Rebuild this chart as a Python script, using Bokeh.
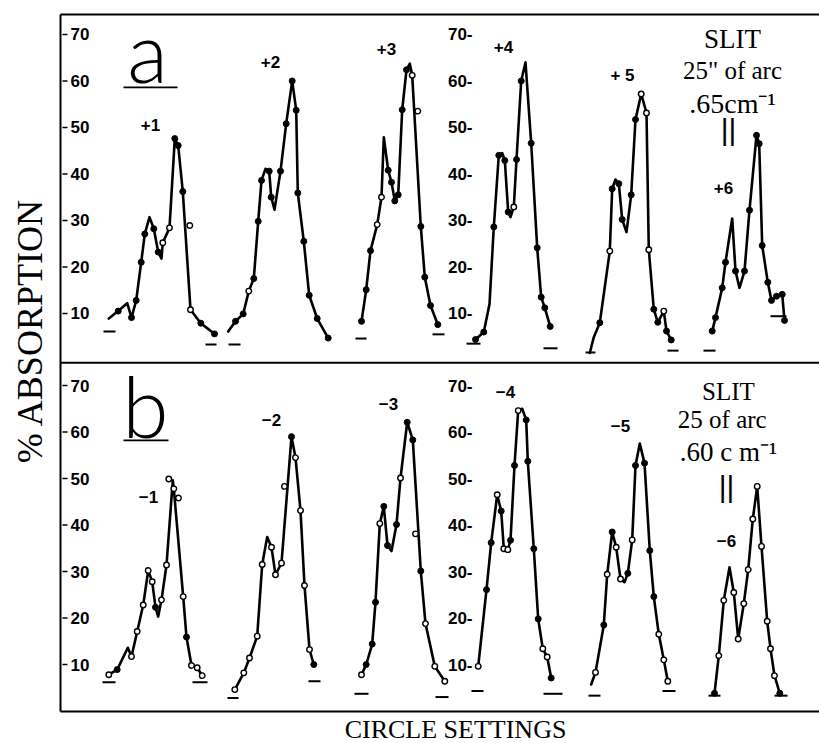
import math
from bokeh.plotting import figure
from bokeh.models import Range1d
from bokeh.core.properties import value
from bokeh.embed import file_html
from bokeh.resources import INLINE

# ---------------- data ----------------
Y_TICKS = [10, 20, 30, 40, 50, 60, 70]
PANEL_A_OFFSET = 75.5      # panel (a) is drawn above panel (b) on a shared scale
DIVIDER = 74.9
FRAME_TOP = 149.8
FRAME_BOTTOM = -0.1
FRAME_RIGHT = 759

# kinds: f = filled point, o = open point, O = open point off the drawn curve, - = curve vertex only
# ---- panel a : circle settings +1 .. +6
A1_X = [48.3, 57.7, 66.7, 71.0, 75.7, 80.7, 84.3, 89.0, 93.3, 97.7, 101.0, 102.3, 109.0, 114.3, 117.7, 122.3, 129.3, 130.0, 140.3, 154.0]
A1_Y = [8.9, 10.5, 12.2, 9.1, 12.8, 21.0, 27.1, 30.7, 28.2, 23.2, 21.8, 25.2, 28.4, 47.6, 46.1, 36.2, 28.9, 10.8, 7.9, 5.6]
A1_K = "-f-ffff-ff-oofffOoff"

A2_X = [167.7, 175.0, 182.7, 188.3, 193.3, 197.7, 201.0, 205.0, 208.7, 210.7, 214.0, 220.0, 225.7, 231.7, 235.7, 237.3, 243.3, 248.7, 256.7, 267.7]
A2_Y = [6.1, 8.3, 9.9, 14.8, 17.5, 29.8, 38.6, 41.1, 40.6, 35.0, 32.3, 40.6, 50.8, 60.0, 53.7, 35.9, 25.5, 13.9, 8.9, 4.7]
A2_K = "-ffofff-ff-fffffffff"

A3_X = [301.0, 305.7, 310.0, 316.7, 321.0, 323.3, 327.7, 331.0, 334.3, 337.7, 341.7, 346.0, 349.3, 351.7, 357.3, 360.3, 364.3, 370.0, 377.3]
A3_Y = [8.3, 15.1, 23.5, 29.1, 35.0, 47.9, 40.8, 38.2, 34.2, 35.5, 53.8, 62.4, 63.7, 61.2, 53.5, 28.7, 17.8, 11.7, 7.6]
A3_K = "fffoo-ffffff-oOffff"

A4_X = [415.0, 423.3, 429.0, 433.3, 438.3, 441.7, 444.3, 447.7, 450.0, 453.3, 456.0, 460.7, 465.0, 470.7, 476.7, 480.7, 484.3, 489.7]
A4_Y = [4.4, 6.0, 12.0, 28.6, 44.0, 44.5, 42.9, 31.8, 30.7, 32.9, 43.1, 60.0, 64.0, 46.6, 24.1, 13.5, 11.2, 7.2]
A4_K = "ff-ff-ff-off-fffff"

A5_X = [529.3, 533.3, 539.3, 549.3, 551.7, 555.0, 558.3, 561.7, 566.0, 570.7, 575.0, 580.7, 586.0, 588.3, 593.3, 597.3, 603.3, 606.0, 610.7]
A5_Y = [1.5, 4.9, 8.0, 23.4, 36.8, 38.8, 37.9, 30.2, 27.5, 35.5, 51.7, 57.2, 53.1, 23.7, 10.9, 8.1, 10.5, 6.2, 4.3]
A5_K = "--fof-ff-ffoooffoff"

A6_X = [651.7, 655.0, 661.7, 665.0, 671.7, 675.0, 679.0, 684.0, 689.0, 696.0, 698.7, 701.7, 707.3, 711.0, 716.0, 721.7, 724.0]
A6_Y = [6.2, 9.1, 15.5, 21.0, 30.4, 19.1, 15.5, 19.1, 32.2, 48.3, 46.5, 24.6, 16.7, 12.8, 13.7, 14.1, 8.5]
A6_K = "ffff-f-ffffffffff"

# ---- panel b : circle settings -1 .. -6
B1_X = [48.3, 56.7, 67.3, 71.0, 76.7, 82.7, 87.7, 91.7, 95.0, 97.7, 101.0, 106.0, 108.3, 112.3, 113.3, 118.0, 122.7, 126.0, 131.0, 136.7, 141.7]
B1_Y = [7.8, 8.9, 13.6, 11.7, 17.1, 22.8, 30.2, 27.8, 22.3, 20.3, 23.9, 31.4, 49.9, 49.6, 47.8, 45.8, 24.6, 15.9, 9.8, 9.3, 7.6]
B1_K = "of-ooooof-ooO-oOofooo"

B2_X = [174.3, 183.3, 189.0, 196.7, 201.7, 206.7, 211.0, 215.0, 221.0, 224.0, 231.0, 235.0, 240.0, 244.0, 249.0, 253.3]
B2_Y = [4.6, 8.2, 11.4, 16.1, 31.5, 37.4, 35.2, 29.3, 31.8, 48.3, 59.0, 54.5, 43.1, 27.0, 13.2, 10.0]
B2_K = "ooooo-oooOfoooof"

B3_X = [301.0, 305.7, 311.7, 315.0, 319.3, 323.3, 327.0, 331.0, 336.0, 340.0, 346.7, 352.3, 355.0, 360.3, 365.0, 374.3, 384.3]
B3_Y = [7.8, 10.0, 14.4, 23.4, 40.3, 44.0, 35.6, 34.4, 40.1, 50.1, 62.1, 58.3, 38.1, 30.1, 18.8, 9.6, 6.4]
B3_K = "offfoff-foffOfooo"

B4_X = [417.7, 426.0, 430.7, 436.7, 440.7, 443.3, 447.3, 450.0, 454.0, 457.7, 461.7, 465.7, 467.3, 473.3, 477.7, 482.3, 486.7, 490.7]
B4_Y = [9.6, 26.1, 36.2, 46.5, 43.0, 34.9, 34.7, 36.7, 52.8, 64.6, 65.0, 62.6, 53.7, 34.9, 19.8, 13.4, 11.6, 7.1]
B4_K = "offofooffo-ffffoof"

B5_X = [530.7, 535.0, 543.3, 546.7, 551.7, 555.7, 560.0, 564.0, 567.3, 571.7, 575.0, 579.3, 584.0, 589.3, 593.3, 598.3, 603.3, 607.3]
B5_Y = [5.7, 8.3, 18.5, 29.4, 38.5, 35.2, 28.4, 27.7, 29.6, 36.8, 52.8, 57.5, 53.3, 34.5, 24.6, 16.5, 11.0, 6.4]
B5_K = "-ofofoo-fof-fffooo"

B6_X = [654.0, 658.3, 663.3, 669.0, 673.3, 677.7, 683.3, 687.7, 692.3, 696.7, 701.0, 706.7, 710.0, 714.0, 719.3]
B6_Y = [3.8, 11.9, 23.8, 30.9, 25.5, 15.5, 23.1, 30.4, 41.3, 48.3, 35.4, 19.3, 13.4, 7.6, 3.8]
B6_K = "foo-oooooooooof"

# baseline (zero) marks for each scan: x0, x1, level
A_BASE_X0 = [43, 145, 168, 295, 372, 406, 483, 525, 607, 643, 710]
A_BASE_X1 = [55, 156, 180, 306, 384, 420, 497, 535, 618, 655, 726]
A_BASE_Y = [6.1, 3.3, 3.3, 4.6, 5.5, 3.5, 2.5, 1.6, 2.0, 2.0, 9.4]

B_BASE_X0 = [42, 132, 167, 248, 294, 375, 411, 483, 528, 602, 648, 714]
B_BASE_X1 = [55, 147, 178, 260, 308, 388, 423, 502, 540, 615, 660, 727]
B_BASE_Y = [6.2, 6.2, 2.8, 6.4, 3.7, 3.0, 4.3, 3.7, 3.3, 4.3, 3.3, 3.3]

A_LABELS = ["+1", "+2", "+3", "+4", "+ 5", "+6"]
B_LABELS = ["\u22121", "\u22122", "\u22123", "\u22124", "\u22125", "\u22126"]

# ---------------- figure ----------------
SCALE = 4.65  # px per % unit
W, H = 819, 743
Y_TOP = 710.5 / SCALE
p = figure(width=W, height=H, output_backend="svg", toolbar_location=None,
           x_axis_type=None, y_axis_type=None, title=None,
           min_border_left=0, min_border_right=0, min_border_top=0, min_border_bottom=0)
p.x_range = Range1d(-60, W - 60)
p.y_range = Range1d(Y_TOP - H / SCALE, Y_TOP)
p.outline_line_color = None
p.background_fill_color = "white"
p.border_fill_color = "white"

# frame lines
p.segment([0, 0, 0, 0], [FRAME_TOP, FRAME_BOTTOM, DIVIDER, FRAME_BOTTOM],
          [FRAME_RIGHT, FRAME_RIGHT, FRAME_RIGHT, 0], [FRAME_TOP, FRAME_BOTTOM, DIVIDER, FRAME_TOP],
          line_color="black", line_width=2)

def draw_curve(xs, ys, ks, off):
    assert len(xs) == len(ys) == len(ks), (len(xs), len(ys), len(ks))
    yy = [y + off for y in ys]
    lx = [x for x, k in zip(xs, ks) if k != "O"]
    ly = [y for y, k in zip(yy, ks) if k != "O"]
    p.line(lx, ly, line_color="black", line_width=2.6, line_join="round", line_cap="round")
    fx = [x for x, k in zip(xs, ks) if k == "f"]
    fy = [y for y, k in zip(yy, ks) if k == "f"]
    p.scatter(fx, fy, marker="circle", size=6, fill_color="black", line_color="black")
    ox = [x for x, k in zip(xs, ks) if k in "oO"]
    oy = [y for y, k in zip(yy, ks) if k in "oO"]
    p.scatter(ox, oy, marker="circle", size=5.5, fill_color="white", line_color="black", line_width=1.4)

for xs, ys, ks in [(A1_X, A1_Y, A1_K), (A2_X, A2_Y, A2_K), (A3_X, A3_Y, A3_K),
                   (A4_X, A4_Y, A4_K), (A5_X, A5_Y, A5_K), (A6_X, A6_Y, A6_K)]:
    draw_curve(xs, ys, ks, PANEL_A_OFFSET)
for xs, ys, ks in [(B1_X, B1_Y, B1_K), (B2_X, B2_Y, B2_K), (B3_X, B3_Y, B3_K),
                   (B4_X, B4_Y, B4_K), (B5_X, B5_Y, B5_K), (B6_X, B6_Y, B6_K)]:
    draw_curve(xs, ys, ks, 0.0)

p.segment(A_BASE_X0, [y + PANEL_A_OFFSET for y in A_BASE_Y], A_BASE_X1,
          [y + PANEL_A_OFFSET for y in A_BASE_Y], line_color="black", line_width=2)
p.segment(B_BASE_X0, B_BASE_Y, B_BASE_X1, B_BASE_Y, line_color="black", line_width=2)

# tick labels (drawn inside the frame, as in the original)
SANS = value("Liberation Sans")
SERIF = value("Liberation Serif")
for off in (PANEL_A_OFFSET, 0.0):
    ty = [t + off for t in Y_TICKS]
    p.segment([2] * len(ty), ty, [7] * len(ty), ty, line_color="black", line_width=1.5)
    p.text([10] * len(ty), ty, text=[str(t) for t in Y_TICKS], text_font=SANS,
           text_font_style="bold", text_font_size="17px", text_align="left",
           text_baseline="middle", text_color="black")
    p.text([412] * len(ty), ty, text=[f"{t}-" for t in Y_TICKS], text_font=SANS,
           text_font_style="bold", text_font_size="17px", text_align="right",
           text_baseline="middle", text_color="black")

# scan labels
A_LAB_X = [90, 210, 326, 443, 562, 663]
A_LAB_Y = [50.6, 64.0, 66.8, 67.2, 61.2, 36.9]
B_LAB_X = [88, 211, 328, 445, 560, 666]
B_LAB_Y = [46.1, 62.5, 66.1, 68.5, 61.2, 36.5]
p.text(A_LAB_X, [y + PANEL_A_OFFSET for y in A_LAB_Y], text=A_LABELS, text_font=SANS,
       text_font_style="bold", text_font_size="17px", text_align="center", text_baseline="middle")
p.text(B_LAB_X, B_LAB_Y, text=B_LABELS, text_font=SANS,
       text_font_style="bold", text_font_size="17px", text_align="center", text_baseline="middle")

# panel letters with underlines
LETTER_FONT = value("'Lato Light', 'DejaVu Sans', sans-serif")
p.text([87], [142.0], text=["a"], text_font=LETTER_FONT, text_font_size="84px",
       text_align="center", text_baseline="alphabetic")
p.text([85], [65.7], text=["b"], text_font=LETTER_FONT, text_font_size="84px",
       text_align="center", text_baseline="alphabetic")
p.segment([63, 63], [134.1, 58.2], [117, 108], [134.1, 58.2], line_color="black", line_width=1.8)

# slit annotations
def slit_block(x, ys, texts, sizes):
    for y, t, s in zip(ys, texts, sizes):
        p.text([x], [y], text=[t], text_font=SERIF, text_font_size=s,
               text_align="center", text_baseline="middle", text_color="black")

slit_block(672, [69.1 + PANEL_A_OFFSET, 62.3 + PANEL_A_OFFSET, 55.2 + PANEL_A_OFFSET],
           ["SLIT", "25\" of arc", ".65cm\u207b\u00b9"], ["27px", "25px", "28px"])
slit_block(668, [68.7, 62.7, 55.8], ["SLIT", "25  of  arc", ".60 c m\u207b\u00b9"],
           ["25px", "25px", "27px"])
p.text([668, 666], [49.5 + PANEL_A_OFFSET, 48.3], text=["||", "||"], text_font=SANS,
       text_font_size="30px", text_align="center", text_baseline="middle")

# axis titles
p.text([-31], [81.8], text=["% ABSORPTION"], angle=math.pi / 2, text_font=SERIF,
       text_font_size="36px", text_align="center", text_baseline="middle", text_color="black")
p.text([395], [-3.9], text=["CIRCLE SETTINGS"], text_font=SERIF,
       text_font_size="26px", text_align="center", text_baseline="middle", text_color="black")

open("out.html", "w").write(file_html(p, INLINE))
